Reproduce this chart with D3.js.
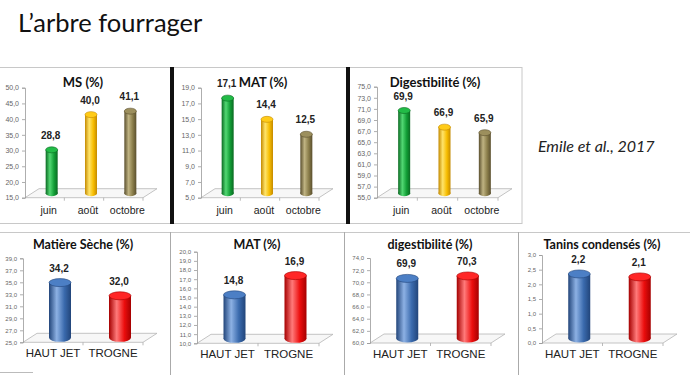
<!DOCTYPE html>
<html><head><meta charset="utf-8">
<script src="https://cdn.jsdelivr.net/npm/d3@7"></script>
<style>
html,body{margin:0;padding:0;background:#fff;}
svg{display:block;}
</style></head>
<body>
<svg id="c" width="690" height="375"></svg>
<script>
// ---------- DATA ----------
const slideTitle = "L\u2019arbre fourrager";
const citation = "Emile et al., 2017";

const monthCategories = ["juin", "août", "octobre"];
const msMonths = [28.8, 40.0, 41.1];
const matMonths = [17.1, 14.4, 12.5];
const digMonths = [69.9, 66.9, 65.9];
const monthColors = ["green", "yellow", "olive"];

const typeCategories = ["HAUT JET", "TROGNE"];
const msTypes = [34.2, 32.0];
const matTypes = [14.8, 16.9];
const digTypes = [69.9, 70.3];
const taninTypes = [2.2, 2.1];
const typeColors = ["blue", "red"];

const msMonthTicks = [15, 20, 25, 30, 35, 40, 45, 50];
const matMonthTicks = [5, 7, 9, 11, 13, 15, 17, 19];
const digMonthTicks = [55, 57, 59, 61, 63, 65, 67, 69, 71, 73, 75];
const msTypeTicks = [25, 27, 29, 31, 33, 35, 37, 39];
const matTypeTicks = [10, 11, 12, 13, 14, 15, 16, 17, 18, 19, 20];
const digTypeTicks = [60, 62, 64, 66, 68, 70, 72, 74];
const taninTypeTicks = [0, 0.5, 1, 1.5, 2, 2.5, 3];

// ---------- STYLE ----------
const palette = {
  green:  {dark:"#0a6a22", base:"#129e36", light:"#52d873", top:"#22bb47"},
  yellow: {dark:"#c48a00", base:"#f7bd00", light:"#ffe46a", top:"#ffcb18"},
  olive:  {dark:"#5a4f2e", base:"#8a7d4a", light:"#bfb382", top:"#9c8f5d"},
  blue:   {dark:"#22457a", base:"#3a6aad", light:"#8db1e4", top:"#4c7fc5"},
  red:    {dark:"#a50000", base:"#ec0d0d", light:"#ff7a7a", top:"#ff2626"}
};

const svg = d3.select("#c");
const defs = svg.append("defs");
Object.entries(palette).forEach(([k, c]) => {
  const g = defs.append("linearGradient").attr("id", "g-" + k).attr("x1", "0").attr("x2", "1").attr("y1", "0").attr("y2", "0");
  g.append("stop").attr("offset", "0%").attr("stop-color", c.dark);
  g.append("stop").attr("offset", "35%").attr("stop-color", c.light);
  g.append("stop").attr("offset", "70%").attr("stop-color", c.base);
  g.append("stop").attr("offset", "100%").attr("stop-color", c.dark);
});

const fmt = v => d3.format(".1f")(v).replace(".", ",");

// ---------- FRAMES ----------
const frames = svg.append("g");
frames.append("rect").attr("x", -1).attr("y", 67.5).attr("width", 523).attr("height", 156).attr("fill", "none").attr("stroke", "#c8c8c8");
frames.append("rect").attr("x", 170).attr("y", 67).attr("width", 4).attr("height", 157).attr("fill", "#111");
frames.append("rect").attr("x", 346).attr("y", 67).attr("width", 4).attr("height", 157).attr("fill", "#111");
frames.append("line").attr("x1", 0).attr("x2", 690).attr("y1", 232.5).attr("y2", 232.5).attr("stroke", "#c8c8c8");
[170.5, 344.5, 518.5].forEach(x => frames.append("line").attr("x1", x).attr("x2", x).attr("y1", 232).attr("y2", 375).attr("stroke", "#aaa"));
frames.append("line").attr("x1", 0).attr("x2", 33).attr("y1", 372.5).attr("y2", 372.5).attr("stroke", "#bbb");

// ---------- TEXTS ----------
svg.append("text").attr("x", 18).attr("y", 32).attr("font-family", "Lato, 'Open Sans', sans-serif")
  .attr("font-size", 25.5).attr("fill", "#111").text(slideTitle);
svg.append("text").attr("x", 538).attr("y", 152).attr("font-family", "Lato, 'Open Sans', sans-serif")
  .attr("font-style", "italic").attr("font-size", 16).attr("fill", "#222").text(citation);

// ---------- CHARTS ----------
const charts = [
  {title:"MS (%)", tx:83, ty:87, cats:monthCategories, vals:msMonths, cols:monthColors, ticks:msMonthTicks,
   x0:25, x1:143, yTop:87.7, yBot:197.7, bw:12, tfs:7, cfs:10.5, big:false},
  {title:"MAT (%)", tx:263, ty:87, cats:monthCategories, vals:matMonths, cols:monthColors, ticks:matMonthTicks,
   x0:201, x1:319, yTop:87.7, yBot:197.7, bw:12, tfs:7, cfs:10.5, big:false},
  {title:"Digestibilité (%)", tx:435, ty:87, cats:monthCategories, vals:digMonths, cols:monthColors, ticks:digMonthTicks,
   x0:377, x1:498, yTop:86.7, yBot:197.7, bw:12, tfs:7, cfs:10.5, big:false},
  {title:"Matière Sèche (%)", tx:83, ty:249, cats:typeCategories, vals:msTypes, cols:typeColors, ticks:msTypeTicks,
   x0:23, x1:143, yTop:258.3, yBot:342.3, bw:22, tfs:6, cfs:11.5, big:true},
  {title:"MAT (%)", tx:257, ty:249, cats:typeCategories, vals:matTypes, cols:typeColors, ticks:matTypeTicks,
   x0:197, x1:319, yTop:251.7, yBot:343.3, bw:22, tfs:6, cfs:11.5, big:true},
  {title:"digestibilité (%)", tx:430, ty:249, cats:typeCategories, vals:digTypes, cols:typeColors, ticks:digTypeTicks,
   x0:370, x1:491, yTop:258, yBot:343, bw:22, tfs:6, cfs:11.5, big:true},
  {title:"Tanins condensés (%)", tx:602, ty:249, cats:typeCategories, vals:taninTypes, cols:typeColors, ticks:taninTypeTicks,
   x0:542, x1:663, yTop:255, yBot:343, bw:22, tfs:6, cfs:11.5, big:true}
];

const DX = 14, DY = -9;

charts.forEach(c => {
  const g = svg.append("g");
  const y = d3.scaleLinear().domain(d3.extent(c.ticks)).range([c.yBot, c.yTop]);
  const x = d3.scaleBand().domain(c.cats).range([c.x0, c.x1]);

  const fy = c.yBot;
  g.append("polygon")
    .attr("points", [[c.x0, fy], [c.x1, fy], [c.x1 + DX, fy + DY], [c.x0 + DX, fy + DY]].map(p => p.join(",")).join(" "))
    .attr("fill", "#f7f7f7").attr("stroke", "#b5b5b5").attr("stroke-width", 0.8);
  c.cats.forEach((d, i) => {
    if (i === 0) return;
    const xx = x(d);
    g.append("line").attr("x1", xx).attr("x2", xx).attr("y1", fy).attr("y2", fy + 3).attr("stroke", "#aaa").attr("stroke-width", 0.8);
  });
  g.append("line").attr("x1", c.x1).attr("x2", c.x1).attr("y1", fy).attr("y2", fy + 3).attr("stroke", "#aaa").attr("stroke-width", 0.8);

  const ax = g.append("g").attr("transform", `translate(${c.x0},0)`)
    .call(d3.axisLeft(y).tickValues(c.ticks).tickFormat(fmt).tickSize(3).tickPadding(3));
  ax.select(".domain").attr("stroke", "#999").attr("stroke-width", 0.8);
  ax.selectAll(".tick line").attr("stroke", "#999").attr("stroke-width", 0.8);
  ax.selectAll(".tick text").attr("fill", "#666").attr("font-size", c.tfs).attr("font-family", "'Liberation Sans', Arial, sans-serif");

  const ry = c.big ? 4 : 3;
  c.cats.forEach((d, i) => {
    const v = c.vals[i];
    const cx = x(d) + x.bandwidth() / 2 + DX / 2;
    const yT = y(v) + DY / 2;
    const yB = y(c.ticks[0]) + DY / 2;
    const col = palette[c.cols[i]];
    g.append("ellipse").attr("cx", cx).attr("cy", yB).attr("rx", c.bw / 2).attr("ry", ry).attr("fill", `url(#g-${c.cols[i]})`);
    g.append("rect").attr("x", cx - c.bw / 2).attr("y", yT).attr("width", c.bw).attr("height", yB - yT).attr("fill", `url(#g-${c.cols[i]})`);
    g.append("ellipse").attr("cx", cx).attr("cy", yT).attr("rx", c.bw / 2).attr("ry", ry)
      .attr("fill", col.top).attr("stroke", col.dark).attr("stroke-width", 0.6);
    g.append("text").attr("x", cx - 1).attr("y", yT - 11).attr("text-anchor", "middle")
      .attr("font-family", "'Liberation Sans', Arial, sans-serif").attr("font-weight", "bold")
      .attr("font-size", 10).attr("fill", "#222").text(fmt(v));
    g.append("text").attr("x", x(d) + x.bandwidth() / 2 + (c.big ? 0 : 4)).attr("y", fy + (c.big ? 15 : 16))
      .attr("text-anchor", "middle").attr("font-family", "'Liberation Sans', Arial, sans-serif")
      .attr("font-size", c.cfs).attr("fill", "#222").text(d);
  });

  g.append("text").attr("x", c.tx).attr("y", c.ty).attr("text-anchor", "middle")
    .attr("font-family", "Lato, 'Open Sans', sans-serif").attr("font-weight", "bold")
    .attr("font-size", c.big ? 12.5 : 13).attr("fill", "#111").text(c.title);
});
</script>
</body></html>
